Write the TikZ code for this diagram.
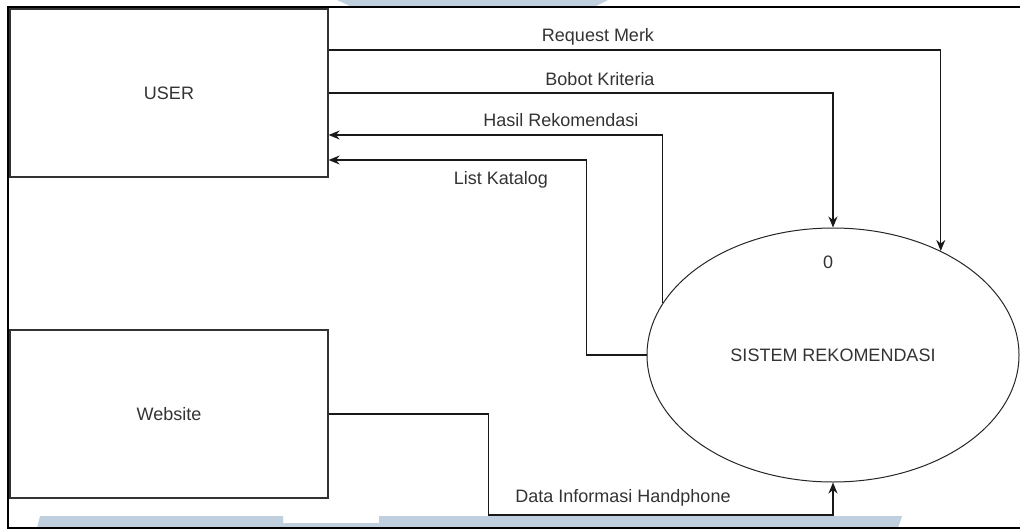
\documentclass[tikz,border=0pt]{standalone}
\usepackage{fontspec}
\setmainfont{Liberation Sans}
\usetikzlibrary{arrows.meta,shapes.geometric,calc}
\definecolor{txt}{HTML}{333333}
\definecolor{wm}{RGB}{192,207,222}
\begin{document}
\begin{tikzpicture}[x=1pt,y=-1pt,
  font=\fontsize{18}{21}\selectfont,
  entity/.style={draw=txt,line width=1.3pt,minimum width=318pt,minimum height=168pt,text=txt,inner sep=0pt},
  proc/.style={draw=black!85,line width=1pt,ellipse,minimum width=372pt,minimum height=254pt,text=txt,inner sep=0pt},
  flow/.style={draw=black!90,line width=1.3pt},
  arr/.style={flow,-{Stealth[length=11pt,width=9pt]}},
  lbl/.style={text=txt,inner sep=0pt},
  frame/.style={draw=black,line width=2pt}]
\useasboundingbox (0,0) rectangle (1020,530);
% watermark fragments
\fill[wm] (40,516) -- (283,516) -- (283,523) -- (379,523) -- (379,516) -- (902,516) -- (898,528) -- (37,528) -- cycle;
\fill[wm] (337,0) -- (608,0) -- (596,6) -- (350,6) -- cycle;
% outer frame
\draw[frame] (1020,7) -- (7.5,7) -- (7.5,528) -- (1020,528);
% nodes
\node[entity] (user) at (169,93) {USER};
\node[entity] (web) at (169,414) {Website};
\node[proc] (sys) at (833,355) {SISTEM REKOMENDASI};
\node[lbl] (zero) at (828,262) {0};
% connectors
\draw[arr] ($(user.east)+(0,-43)$) -| (sys.44);
\draw[arr] (user.east) -| (sys.north);
\draw[arr] (sys.163.8) |- ($(user.east)+(0,42)$);
\draw[arr] (sys.west) -- ++(-60,0) |- ($(user.east)+(0,67)$);
\draw[arr] (web.east) -- ++(160,0) -- ++(0,101) -| (sys.south);
% labels
\node[lbl] (lreq) at (598,37) {Request Merk};
\node[lbl] (lbob) at (600,79) {Bobot Kriteria};
\node[lbl] (lhas) at (561,120) {Hasil Rekomendasi};
\node[lbl] (llist) at (501,180) {List Katalog};
\node[lbl] (ldata) at (623,498) {Data Informasi Handphone};
\end{tikzpicture}
\end{document}
